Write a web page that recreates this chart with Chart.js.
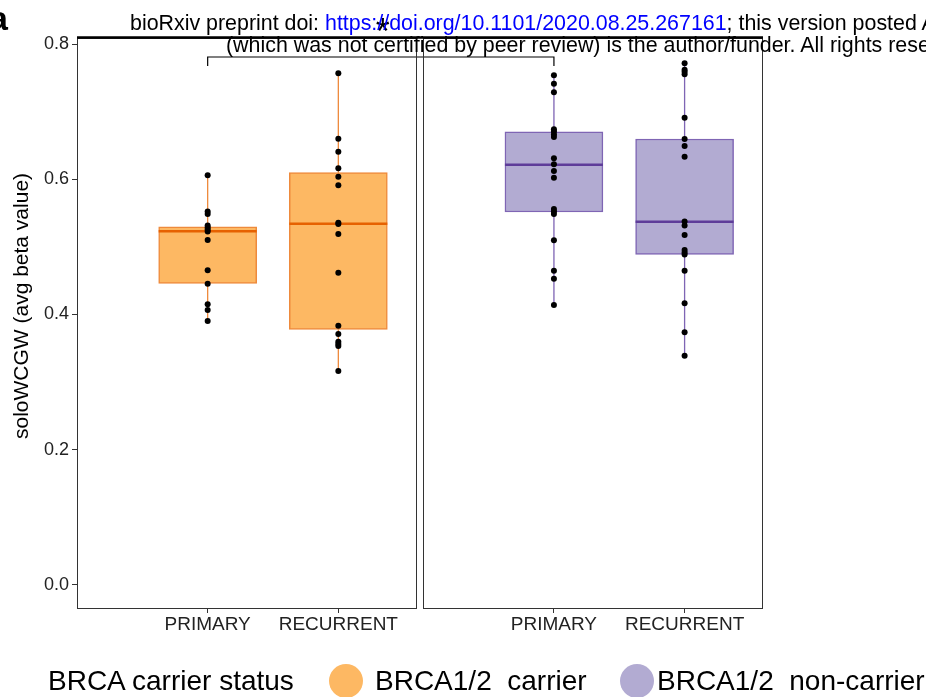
<!DOCTYPE html>
<html>
<head>
<meta charset="utf-8">
<script src="https://cdn.jsdelivr.net/npm/chart.js@4.4.1/dist/chart.umd.min.js"></script>
<style>
html,body{margin:0;padding:0;background:#fff;overflow:hidden;}
#wrap{position:relative;width:926px;height:697px;overflow:hidden;font-family:"Liberation Sans",Arial,sans-serif;}
#c{position:absolute;left:0;top:0;}
.hdr{position:absolute;white-space:nowrap;font-size:21.4px;line-height:21px;color:#000;}
.hdr .lnk{color:#0000ff;}
#tag{position:absolute;left:-11px;top:1px;font-weight:bold;font-size:34px;line-height:34px;color:#000;}
.lg{position:absolute;white-space:pre;font-size:28px;line-height:28px;color:#000;}
.dot{position:absolute;width:34px;height:34px;border-radius:50%;}
</style>
</head>
<body>
<div id="wrap">
  <canvas id="c" width="926" height="697"></canvas>
  <div id="tag">a</div>
  <div class="hdr" style="left:130px;top:13px;">bioRxiv preprint doi: <span class="lnk">https://doi.org/10.1101/2020.08.25.267161</span>; this version posted August 26, 2020. The copyright holder for this preprint</div>
  <div class="hdr" style="left:226px;top:35px;">(which was not certified by peer review) is the author/funder. All rights reserved. No reuse allowed without permission.</div>
  <div class="lg" style="left:48px;top:667px;">BRCA carrier status</div>
  <div class="dot" style="left:329px;top:664px;background:#FDB863;"></div>
  <div class="lg" id="lg1" style="left:375px;top:667px;"></div>
  <div class="dot" style="left:620px;top:664px;background:#B2ABD2;"></div>
  <div class="lg" id="lg2" style="left:657px;top:667px;"></div>
</div>
<script>
// ---------------- data ----------------
const timepoints = ['PRIMARY', 'RECURRENT'];
const groups = ['BRCA1/2  carrier', 'BRCA1/2  non-carrier'];
const legendTitle = 'BRCA carrier status';
const yTitle = 'soloWCGW (avg beta value)';
const yTicks = [0.0, 0.2, 0.4, 0.6, 0.8];

// individual sample values (soloWCGW avg beta)
const carrierPrimary = [0.6058, 0.5523, 0.5486, 0.5316, 0.5287, 0.5257, 0.5227, 0.5102, 0.4654, 0.4455, 0.4151, 0.4067, 0.3904];
const carrierRecurrent = [0.7567, 0.6600, 0.6407, 0.6162, 0.6038, 0.5911, 0.5357, 0.5338, 0.5190, 0.4618, 0.3834, 0.3712, 0.3598, 0.3564, 0.3534, 0.3165];
const nonCarrierPrimary = [0.7537, 0.7413, 0.7286, 0.6739, 0.6706, 0.6662, 0.6625, 0.6310, 0.6221, 0.6122, 0.6023, 0.5560, 0.5523, 0.5486, 0.5097, 0.4648, 0.4529, 0.4140];
const nonCarrierRecurrent = [0.7715, 0.7620, 0.7590, 0.7552, 0.6910, 0.6595, 0.6492, 0.6333, 0.5375, 0.5316, 0.5176, 0.4954, 0.4917, 0.4887, 0.4648, 0.4166, 0.3737, 0.3391];

// box statistics (order: carrier-primary, carrier-recurrent, non-carrier-primary, non-carrier-recurrent)
const boxLow  = [0.3904, 0.3165, 0.4140, 0.3391];
const boxQ1   = [0.4461, 0.3781, 0.5516, 0.4890];
const boxMed  = [0.5233, 0.5343, 0.6215, 0.5372];
const boxQ3   = [0.5296, 0.6097, 0.6703, 0.6595];
const boxHigh = [0.6058, 0.7567, 0.7537, 0.7715];

// significance: carrier-primary vs non-carrier-primary
const sigPair = [0, 2];
const sigLevel = 0.7808;
const sigFoot = 0.7675;
const sigLabel = '*';

// ---------------- layout / style ----------------
const X_POS = [1, 2, 3.65, 4.65];
const PANELS = [[0, 2.6], [2.65, 5.25]];
const BOX_HALF = 0.375;
const groupOf = [0, 0, 1, 1];
const FILL = ['#FDB863', '#B2ABD2'];
const EDGE = ['#EE8A3C', '#7F65B4'];
const MED = ['#E66101', '#5E3C99'];
const FONT = '"Liberation Sans", Arial, sans-serif';
const TITLE_SHIFT = '      '; // leading pad nudges the rotated title upward

document.getElementById('lg1').textContent = groups[0];
document.getElementById('lg2').textContent = groups[1];

const seriesPoints = [carrierPrimary, carrierRecurrent, nonCarrierPrimary, nonCarrierRecurrent];
const xTickLabels = [...timepoints, ...timepoints];

const datasets = [];
datasets.push({
  type: 'scatter', label: 'samples',
  data: seriesPoints.flatMap((arr, i) => arr.map(v => ({x: X_POS[i], y: v}))),
  pointRadius: 3, pointBackgroundColor: '#000', pointBorderWidth: 0, order: 0
});
[0, 1].forEach(g => {
  const idx = [0, 1, 2, 3].filter(i => groupOf[i] === g);
  datasets.push({
    type: 'bar', label: groups[g],
    data: idx.map(i => ({x: X_POS[i], y: [boxQ1[i], boxQ3[i]]})),
    backgroundColor: FILL[g], borderColor: EDGE[g], borderWidth: 1.5,
    borderSkipped: false, barThickness: 98, grouped: false, order: 3
  });
  const med = [];
  idx.forEach(i => {
    med.push({x: X_POS[i] - BOX_HALF, y: boxMed[i]}, {x: X_POS[i] + BOX_HALF, y: boxMed[i]}, {x: X_POS[i] + BOX_HALF, y: null});
  });
  datasets.push({type: 'scatter', showLine: true, spanGaps: false, data: med, borderColor: MED[g], borderWidth: 2.5, pointRadius: 0, order: 1});
  const wh = [];
  idx.forEach(i => {
    wh.push({x: X_POS[i], y: boxLow[i]}, {x: X_POS[i], y: boxQ1[i]}, {x: X_POS[i], y: null},
            {x: X_POS[i], y: boxQ3[i]}, {x: X_POS[i], y: boxHigh[i]}, {x: X_POS[i], y: null});
  });
  datasets.push({type: 'scatter', showLine: true, spanGaps: false, data: wh, borderColor: EDGE[g], borderWidth: 1.3, pointRadius: 0, order: 4});
});
datasets.push({
  type: 'scatter', showLine: true, label: 'bracket',
  data: [
    {x: X_POS[sigPair[0]], y: sigFoot}, {x: X_POS[sigPair[0]], y: sigLevel},
    {x: X_POS[sigPair[1]], y: sigLevel}, {x: X_POS[sigPair[1]], y: sigFoot}
  ],
  borderColor: '#000', borderWidth: 1.2, pointRadius: 0, order: 0
});

const panelPlugin = {
  id: 'panels',
  afterDraw(chart) {
    const {ctx, chartArea, scales} = chart;
    const xs = scales.x, ys = scales.y;
    ctx.save();
    ctx.strokeStyle = '#333';
    ctx.lineWidth = 1;
    PANELS.forEach(([a, b]) => {
      const l = Math.round(xs.getPixelForValue(a)) + 0.5;
      const r = Math.round(xs.getPixelForValue(b)) - 0.5;
      ctx.strokeRect(l, Math.round(chartArea.top) + 0.5, r - l, Math.round(chartArea.bottom) - Math.round(chartArea.top) - 1);
    });
    // heavy top rule
    ctx.strokeStyle = '#000';
    ctx.lineWidth = 2.5;
    ctx.beginPath();
    ctx.moveTo(xs.getPixelForValue(PANELS[0][0]), chartArea.top - 0.5);
    ctx.lineTo(xs.getPixelForValue(PANELS[1][1]), chartArea.top - 0.5);
    ctx.stroke();
    // significance star
    const mx = (xs.getPixelForValue(X_POS[sigPair[0]]) + xs.getPixelForValue(X_POS[sigPair[1]])) / 2;
    const by = ys.getPixelForValue(sigLevel);
    ctx.fillStyle = '#000';
    ctx.font = '36px ' + FONT;
    ctx.textAlign = 'center';
    ctx.textBaseline = 'alphabetic';
    ctx.fillText(sigLabel, mx + 2, by - 13);
    ctx.restore();
  }
};

new Chart(document.getElementById('c'), {
  type: 'scatter',
  data: {datasets},
  plugins: [panelPlugin],
  options: {
    responsive: false,
    animation: false,
    events: [],
    layout: {padding: {left: 0, right: 163, top: 38, bottom: 0}},
    plugins: {legend: {display: false}, tooltip: {enabled: false}},
    scales: {
      x: {
        type: 'linear', min: PANELS[0][0], max: PANELS[1][1], offset: false,
        afterBuildTicks: s => { s.ticks = X_POS.map(v => ({value: v})); },
        afterFit: s => { s.height = 88; },
        ticks: {
          callback: (v, i) => xTickLabels[i],
          font: {size: 19, family: FONT}, color: '#222', padding: 0,
          autoSkip: false, maxRotation: 0, minRotation: 0
        },
        grid: {drawOnChartArea: false, drawTicks: true, tickLength: 4, color: '#333', offset: false},
        border: {display: false}
      },
      y: {
        type: 'linear', min: -0.0355, max: 0.8089,
        afterBuildTicks: s => { s.ticks = yTicks.map(v => ({value: v})); },
        afterFit: s => { s.width = 77; },
        ticks: {
          callback: v => Number(v).toFixed(1),
          font: {size: 18, family: FONT}, color: '#222', padding: 3
        },
        grid: {drawOnChartArea: false, drawTicks: true, tickLength: 5, color: '#333'},
        border: {display: false},
        title: {display: true, text: TITLE_SHIFT + yTitle, font: {size: 21, family: FONT}, color: '#000', padding: {top: 10, bottom: 0}}
      }
    }
  }
});
</script>
</body>
</html>
